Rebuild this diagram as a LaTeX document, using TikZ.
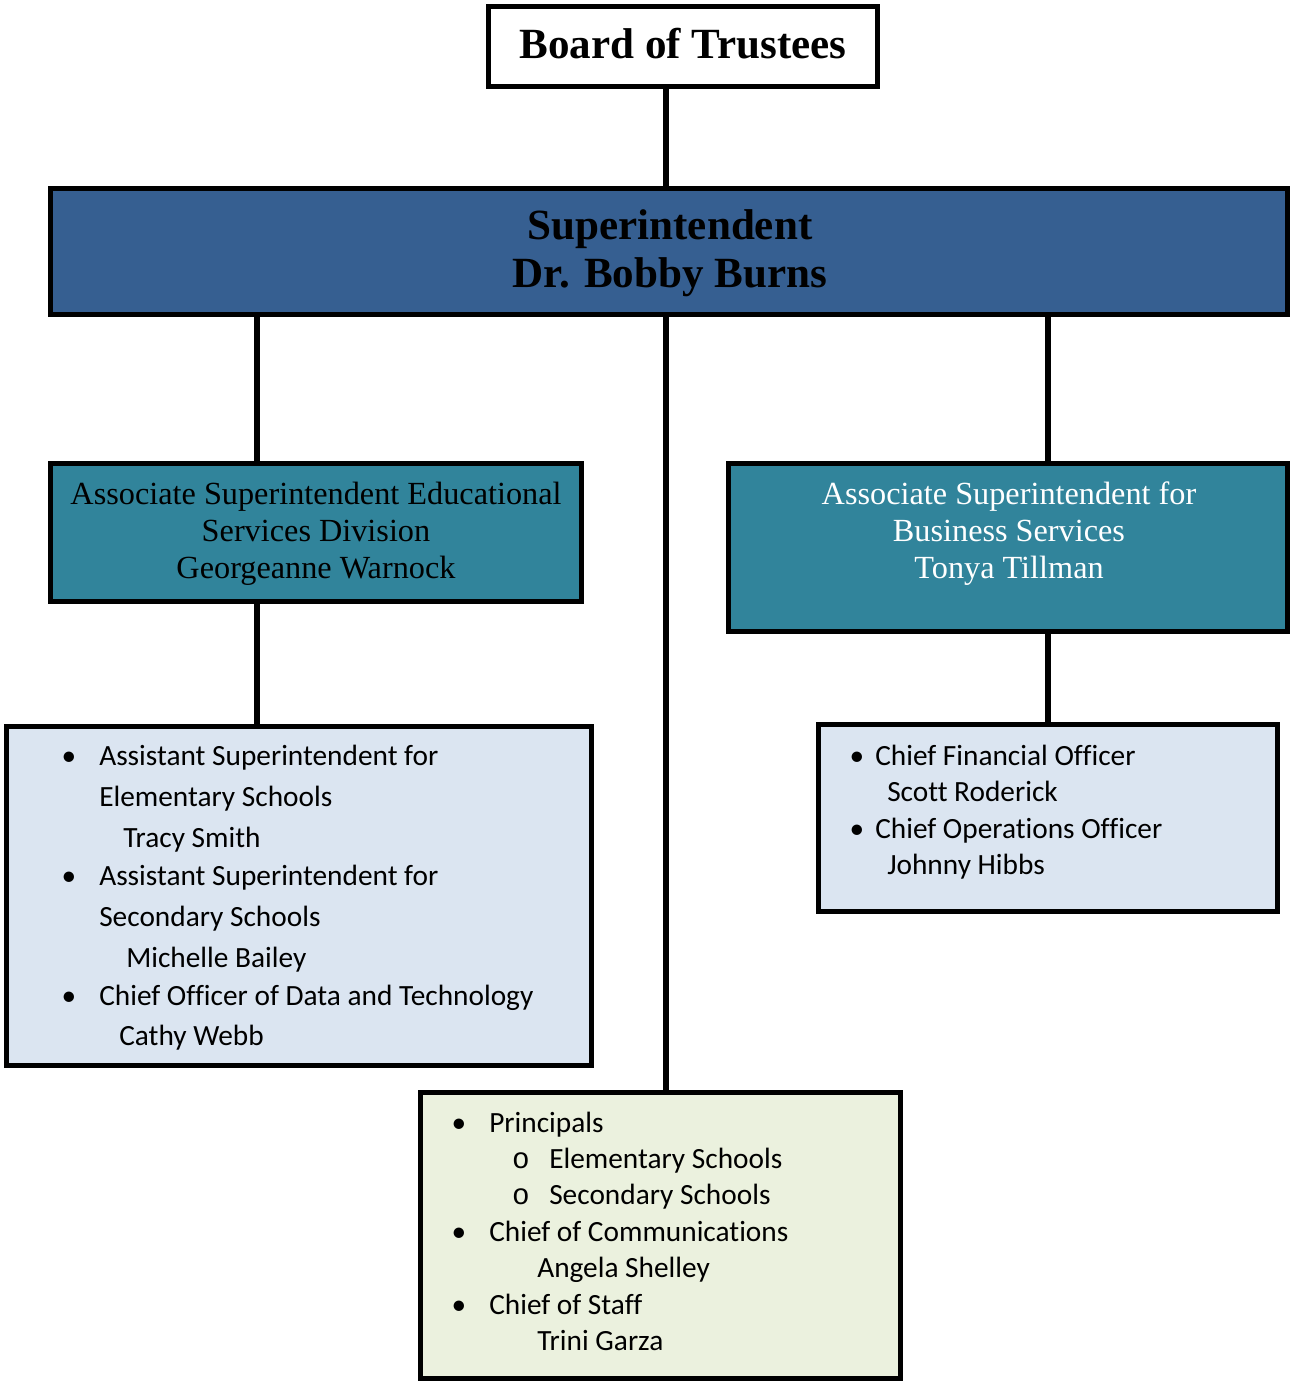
\documentclass[tikz,border=0pt]{standalone}
\usepackage{fontspec}
\setmainfont{Liberation Serif}
\newfontfamily\listfont[Ligatures=NoCommon]{Carlito}
\newfontfamily\ringfont{Liberation Mono}

\definecolor{superblue}{HTML}{365F91}
\definecolor{assocteal}{HTML}{31849B}
\definecolor{listblue}{HTML}{DBE5F1}
\definecolor{listgreen}{HTML}{EBF1DE}

\tikzset{
  box/.style={draw=black, line width=3.75pt, inner sep=0pt},
  link/.style={line width=4.8pt},
  head/.style={font=\fontsize{32.3}{36}\selectfont\bfseries, align=center},
  assoc/.style={font=\fontsize{24.2}{27.75}\selectfont, align=center},
  item/.style={font=\listfont\fontsize{22}{26}\selectfont, anchor=base west, inner sep=0pt},
  dot/.style={font=\listfont\fontsize{22}{26}\selectfont, anchor=base, inner sep=0pt},
  ring/.style={font=\ringfont\fontsize{22}{26}\selectfont, anchor=base, inner sep=0pt}
}

\begin{document}
\begin{tikzpicture}[x=0.75pt, y=-0.75pt]
    \useasboundingbox (0, 0) rectangle (1291, 1383);

    % boxes
    \node[box, minimum width=291.75pt, minimum height=60pt] (board) at (682.5, 47) {};
    \node[box, fill=superblue, minimum width=927.75pt, minimum height=94.5pt] (super) at (668.5, 252) {};
    \node[box, fill=assocteal, minimum width=398.25pt, minimum height=103.5pt] (lassoc) at (315.5, 532) {};
    \node[box, fill=assocteal, minimum width=419.25pt, minimum height=126pt] (rassoc) at (1007.5, 547) {};
    \node[box, fill=listblue, minimum width=438.75pt, minimum height=254.25pt] (llist) at (298.5, 895.5) {};
    \node[box, fill=listblue, minimum width=344.25pt, minimum height=140.25pt] (rlist) at (1047.5, 817.5) {};
    \node[box, fill=listgreen, minimum width=360pt, minimum height=214.5pt] (blist) at (660, 1235) {};

    % connectors
    \coordinate (mx) at (666, 0);
    \coordinate (lx) at (257, 0);
    \coordinate (rx) at (1048, 0);
    \draw[link] (board.south -| mx) -- (super.north -| mx);
    \draw[link] (super.south -| lx) -- (lassoc.north -| lx);
    \draw[link] (lassoc.south -| lx) -- (llist.north -| lx);
    \draw[link] (super.south -| rx) -- (rassoc.north -| rx);
    \draw[link] (rassoc.south -| rx) -- (rlist.north -| rx);
    \draw[link] (super.south -| mx) -- (blist.north -| mx);

    % headings
    \node[head] (boardtext) at (683, 44) {Board of Trustees};
    \node[head] (supertext) at (670, 253) {Superintendent\\Dr. Bobby Burns};
    \node[assoc] (lassoctext) at (316, 534) {Associate Superintendent Educational\\Services Division\\Georgeanne Warnock};
    \node[assoc, text=white] (rassoctext) at (1009, 534) {Associate Superintendent for\\Business Services\\Tonya Tillman};

    % left list
    \foreach \y [count=\i] in {765, 885, 1005}
        \node[dot] (lb\i) at (69, \y) {\textbullet};
    \node[item] (l1) at (99, 765) {Assistant Superintendent for};
    \node[item] (l2) at (99, 806) {Elementary Schools};
    \node[item] (l3) at (123, 847) {Tracy Smith};
    \node[item] (l4) at (99, 885) {Assistant Superintendent for};
    \node[item] (l5) at (99, 926) {Secondary Schools};
    \node[item] (l6) at (126, 967) {Michelle Bailey};
    \node[item] (l7) at (99, 1005) {Chief Officer of Data and Technology};
    \node[item] (l8) at (119, 1045) {Cathy Webb};

    % right list
    \foreach \y [count=\i] in {765, 838}
        \node[dot] (rb\i) at (857, \y) {\textbullet};
    \node[item] (r1) at (875, 765) {Chief Financial Officer};
    \node[item] (r2) at (887, 801) {Scott Roderick};
    \node[item] (r3) at (875, 838) {Chief Operations Officer};
    \node[item] (r4) at (887, 874) {Johnny Hibbs};

    % bottom list
    \foreach \y [count=\i] in {1132, 1241, 1314}
        \node[dot] (bb\i) at (459, \y) {\textbullet};
    \foreach \y [count=\i] in {1168, 1204}
        \node[ring] (bo\i) at (521, \y) {o};
    \node[item] (b1) at (489, 1132) {Principals};
    \node[item] (b2) at (549, 1168) {Elementary Schools};
    \node[item] (b3) at (549, 1204) {Secondary Schools};
    \node[item] (b4) at (489, 1241) {Chief of Communications};
    \node[item] (b5) at (537, 1277) {Angela Shelley};
    \node[item] (b6) at (489, 1314) {Chief of Staff};
    \node[item] (b7) at (537, 1350) {Trini Garza};
\end{tikzpicture}
\end{document}
